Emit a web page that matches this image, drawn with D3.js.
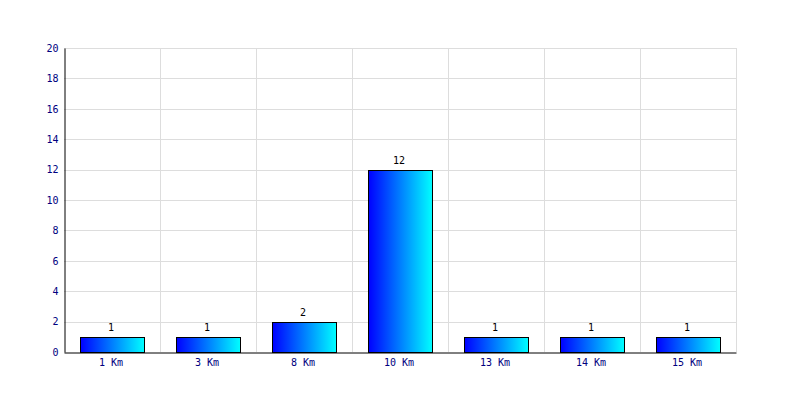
<!DOCTYPE html>
<html><head><meta charset="utf-8">
<script src="https://cdn.jsdelivr.net/npm/d3@7"></script>
<style>body{margin:0;background:#fff}</style>
</head><body>
<svg id="c" width="800" height="400"></svg>
<script>
const categories = ["1 Km","3 Km","8 Km","10 Km","13 Km","14 Km","15 Km"];
const values = [1,1,2,12,1,1,1];
const yTicks = [0,2,4,6,8,10,12,14,16,18,20];

const svg = d3.select("#c");
const L=64,R=736,T=48,B=352;
const x = d3.scaleBand().domain(categories).range([L,R]).paddingInner(1/3).paddingOuter(1/6);
const xb = d3.scaleBand().domain(categories).range([L,R]);
const y = d3.scaleLinear().domain([0,20]).range([B,T]);

const defs = svg.append("defs");
const g = defs.append("linearGradient").attr("id","grad").attr("x1","0%").attr("x2","100%").attr("y1","0%").attr("y2","0%");
g.append("stop").attr("offset","0%").attr("stop-color","#0000ff");
g.append("stop").attr("offset","100%").attr("stop-color","#00ffff");

const font = "DejaVu Sans Mono";
// grid
svg.append("g").selectAll("line").data(yTicks.filter(d=>d>0)).join("line")
  .attr("x1",L).attr("x2",R).attr("y1",d=>Math.round(y(d))+0.5).attr("y2",d=>Math.round(y(d))+0.5)
  .attr("stroke","#dddddd");
svg.append("g").selectAll("line").data(categories.slice(1).concat(["end"])).join("line")
  .attr("x1",(d,i)=>Math.round(i<categories.length-1? xb(d): R)+0.5)
  .attr("x2",(d,i)=>Math.round(i<categories.length-1? xb(d): R)+0.5)
  .attr("y1",T).attr("y2",B).attr("stroke","#dddddd");

// bars
svg.append("g").selectAll("rect").data(values).join("rect")
  .attr("x",(d,i)=>Math.round(x(categories[i]))+0.5)
  .attr("y",d=>Math.round(y(d))+0.5)
  .attr("width",x.bandwidth())
  .attr("height",d=>B-Math.round(y(d)))
  .attr("fill","url(#grad)").attr("stroke","#000").attr("stroke-width",1);

// value labels
svg.append("g").selectAll("text").data(values).join("text")
  .attr("x",(d,i)=>x(categories[i])+x.bandwidth()/2-1)
  .attr("y",d=>y(d)-6)
  .attr("text-anchor","middle").attr("font-family",font).attr("font-size",10).attr("fill","#000")
  .text(d=>d);

// axes
const ya = svg.append("g").attr("transform",`translate(${L+0.5},0)`)
  .call(d3.axisLeft(y).tickValues(yTicks).tickSize(0).tickPadding(6));
ya.select(".domain").attr("stroke","#000");
ya.selectAll("text").attr("font-family",font).attr("font-size",10).attr("fill","#000080");

const xa = svg.append("g").attr("transform",`translate(0,${B+0.5})`)
  .call(d3.axisBottom(xb).tickSize(0).tickPadding(6));
xa.select(".domain").attr("stroke","#000");
xa.selectAll("text").attr("font-family",font).attr("font-size",10).attr("fill","#000080").attr("dx",-1);
</script>
</body></html>
